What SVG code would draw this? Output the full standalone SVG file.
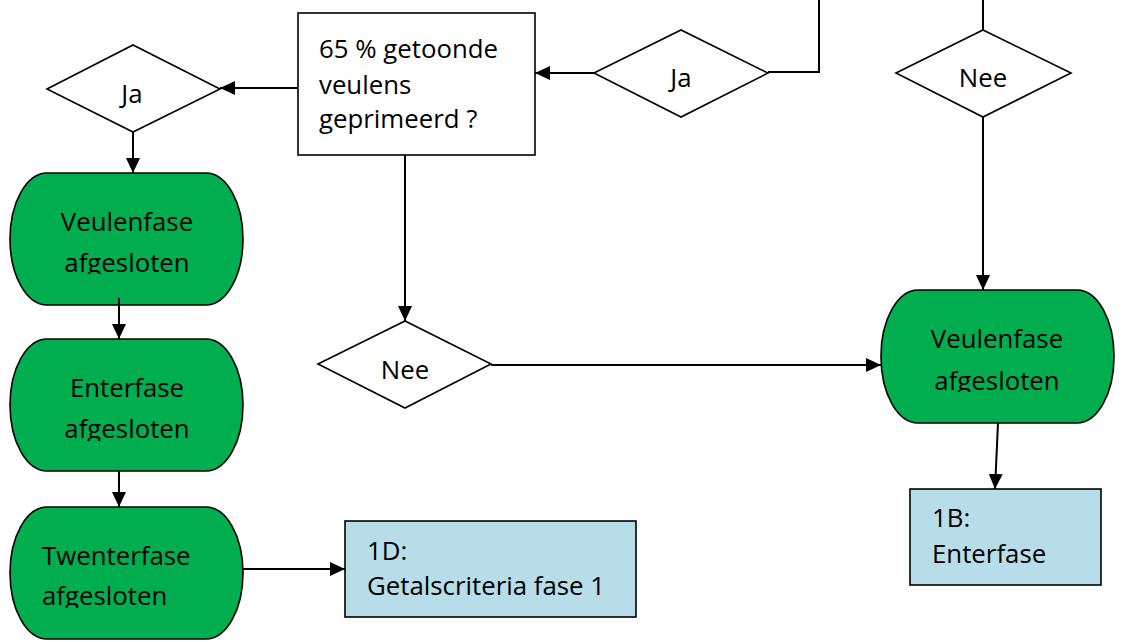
<svg xmlns="http://www.w3.org/2000/svg" width="1126" height="642" viewBox="0 0 1126 642">
  <style>
    .t { font-family: "Open Sans", "Noto Sans", sans-serif; font-size: 25.8px; fill: #000; }
    .m { text-anchor: middle; }
    .box { fill: #fff; stroke: #000; stroke-width: 1.6; }
    .blue { fill: #b7dde8; stroke: #000; stroke-width: 1.6; }
    .green { fill: #00ad4f; stroke: #000; stroke-width: 1.6; }
    .dia { fill: #fff; stroke: #000; stroke-width: 1.6; }
    .c { fill: none; stroke: #000; stroke-width: 2; }
  </style>
  <defs>
    <marker id="ah" markerUnits="userSpaceOnUse" markerWidth="16" markerHeight="14" refX="15" refY="7" orient="auto">
      <path d="M0,0 L15,7 L0,14 z" fill="#000"/>
    </marker>
    <clipPath id="clipV1"><rect x="0" y="0" width="300" height="274"/></clipPath>
    <clipPath id="clipE1"><rect x="0" y="300" width="300" height="141"/></clipPath>
    <clipPath id="clipT1"><rect x="0" y="500" width="300" height="108"/></clipPath>
    <clipPath id="clipNee"><rect x="300" y="320" width="200" height="59"/></clipPath>
    <clipPath id="clipV2"><rect x="870" y="280" width="260" height="112"/></clipPath>
  </defs>

  <g id="node-question">
    <rect class="box" x="298" y="13" width="237" height="142"/>
    <text class="t" x="319" y="58">65 % getoonde</text>
    <text class="t" x="319" y="94">veulens</text>
    <text class="t" x="319" y="128">geprimeerd ?</text>
  </g>

  <g id="node-ja-left">
    <polygon class="dia" points="47,89 133,45 220,89 133,132"/>
    <text class="t m" x="132" y="103">Ja</text>
  </g>

  <g id="node-ja-mid">
    <polygon class="dia" points="594,73 681,30 768,73 681,117"/>
    <text class="t m" x="681" y="87">Ja</text>
  </g>

  <g id="node-nee-right">
    <polygon class="dia" points="896,73 983,30 1071,73 983,117"/>
    <text class="t m" x="983" y="87">Nee</text>
  </g>

  <g id="node-nee-mid">
    <polygon class="dia" points="318,364 405,321 491,364 405,408"/>
    <text class="t m" x="405" y="379" clip-path="url(#clipNee)">Nee</text>
  </g>

  <g id="node-veulenfase-left">
    <rect class="green" x="10" y="173" width="233" height="132" rx="37" ry="66"/>
    <g clip-path="url(#clipV1)">
      <text class="t m" x="127" y="231">Veulenfase</text>
      <text class="t m" x="127" y="272">afgesloten</text>
    </g>
  </g>

  <g id="node-enterfase-left">
    <rect class="green" x="10" y="339" width="233" height="132" rx="37" ry="66"/>
    <g clip-path="url(#clipE1)">
      <text class="t m" x="127" y="397">Enterfase</text>
      <text class="t m" x="127" y="438">afgesloten</text>
    </g>
  </g>

  <g id="node-twenterfase-left">
    <rect class="green" x="10" y="507" width="233" height="132" rx="37" ry="66"/>
    <g clip-path="url(#clipT1)">
      <text class="t" x="42" y="565">Twenterfase</text>
      <text class="t" x="42" y="605">afgesloten</text>
    </g>
  </g>

  <g id="node-1d">
    <rect class="blue" x="345" y="521" width="291" height="96"/>
    <text class="t" x="367" y="560">1D:</text>
    <text class="t" x="367" y="595">Getalscriteria fase 1</text>
  </g>

  <g id="node-veulenfase-right">
    <rect class="green" x="881" y="290" width="233" height="133" rx="37" ry="66"/>
    <g clip-path="url(#clipV2)">
      <text class="t m" x="997" y="348">Veulenfase</text>
      <text class="t m" x="997" y="390">afgesloten</text>
    </g>
  </g>

  <g id="node-1b">
    <rect class="blue" x="910" y="489" width="191" height="96"/>
    <text class="t" x="932" y="527">1B:</text>
    <text class="t" x="932" y="563">Enterfase</text>
  </g>

  <g id="connectors">
    <path class="c" d="M298,88 L220,88" marker-end="url(#ah)"/>
    <path class="c" d="M594,73 L535,73" marker-end="url(#ah)"/>
    <path class="c" d="M819,0 L819,72 L768,72"/>
    <path class="c" d="M983,0 L983,30"/>
    <path class="c" d="M983,117 L983,290" marker-end="url(#ah)"/>
    <path class="c" d="M133,132 L133,173" marker-end="url(#ah)"/>
    <path class="c" d="M119,298 L119,339" marker-end="url(#ah)"/>
    <path class="c" d="M119,471 L119,507" marker-end="url(#ah)"/>
    <path class="c" d="M243,569 L345,569" marker-end="url(#ah)"/>
    <path class="c" d="M405,155 L405,321" marker-end="url(#ah)"/>
    <path class="c" d="M491,365 L881,365" marker-end="url(#ah)"/>
    <path class="c" d="M998,423 L995,489" marker-end="url(#ah)"/>
  </g>
</svg>
